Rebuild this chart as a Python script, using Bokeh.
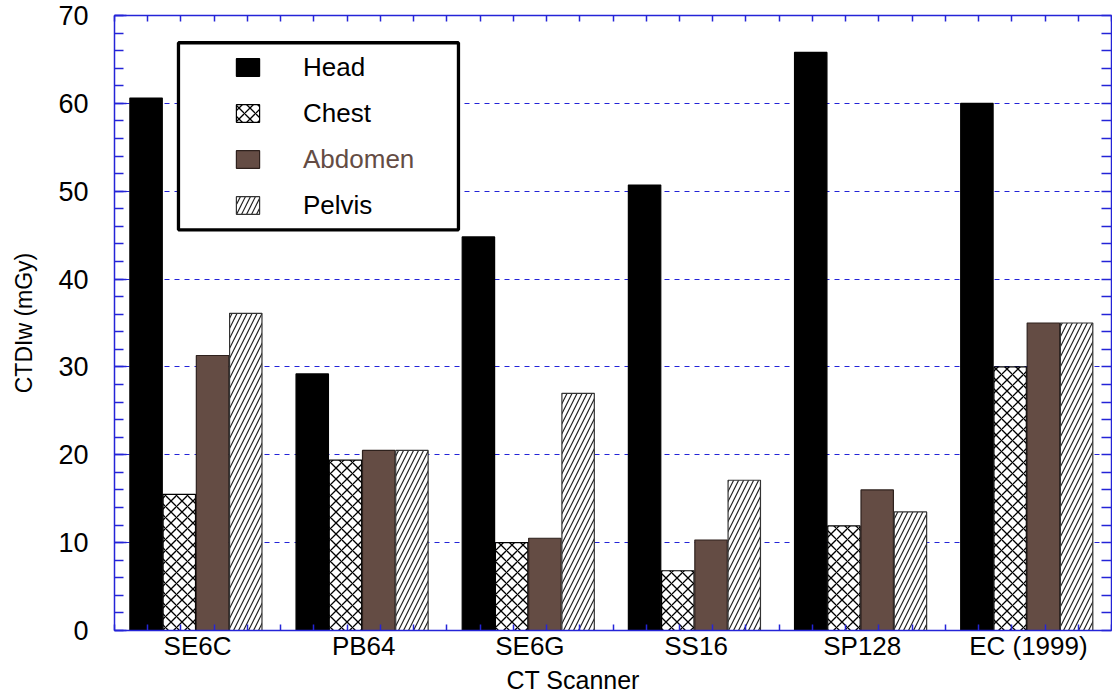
from bokeh.plotting import figure
from bokeh.models import (Range1d, FixedTicker, LinearAxis, Legend, LegendItem,
                          BoxAnnotation, Title)
from bokeh.embed import file_html
from bokeh.resources import INLINE

# ---- data ----
scanners = ["SE6C", "PB64", "SE6G", "SS16", "SP128", "EC (1999)"]
series_names = ["Head", "Chest", "Abdomen", "Pelvis"]
head = [60.6, 29.2, 44.8, 50.7, 65.8, 60.0]
chest = [15.5, 19.4, 10.0, 6.8, 11.9, 30.0]
abdomen = [31.3, 20.5, 10.5, 10.3, 16.0, 35.0]
pelvis = [36.1, 20.5, 27.0, 17.1, 13.5, 35.0]
y_ticks = [0, 10, 20, 30, 40, 50, 60, 70]

FONT = "Liberation Sans"
AXIS = "#2424d8"
BROWN = "#644c44"

ng = len(scanners)
p = figure(width=1112, height=693, output_backend="svg", toolbar_location=None,
           x_range=Range1d(0, ng), y_range=Range1d(0, 70),
           min_border_left=114, min_border_right=1, min_border_top=15,
           min_border_bottom=62)
p.outline_line_color = None
p.background_fill_color = "white"

# grid
p.xgrid.visible = False
p.ygrid.ticker = FixedTicker(ticks=y_ticks[1:-1])
p.ygrid.grid_line_color = AXIS
p.ygrid.grid_line_dash = "5 5"
p.ygrid.grid_line_width = 1

# bars
styles = [
    dict(fill_color="black", line_color="black"),
    dict(fill_color="white", line_color="black", hatch_pattern="x",
         hatch_color="black", hatch_scale=11, hatch_weight=1.3),
    dict(fill_color=BROWN, line_color="#2e211d"),
    dict(fill_color="white", line_color="#333333", hatch_pattern="/",
         hatch_color="#222222", hatch_scale=10, hatch_weight=1.2),
]
values = [head, chest, abdomen, pelvis]
renderers = []
for k, (vals, st) in enumerate(zip(values, styles)):
    xs = [i + 0.19 + 0.2 * k for i in range(ng)]
    r = p.vbar(x=xs, top=vals, bottom=0, width=0.195, line_width=1.2, **st)
    renderers.append(r)

# bottom axis
centers = [i + 0.5 for i in range(ng)]
minor_x = [round(j * 0.2, 2) for j in range(ng * 5 + 1)]
xa = p.xaxis[0]
xa.ticker = FixedTicker(ticks=centers, minor_ticks=minor_x)
xa.major_label_overrides = {c: s for c, s in zip(centers, scanners)}
xa.major_tick_in = 0
xa.major_tick_out = 0
xa.minor_tick_in = 6
xa.minor_tick_out = 0
xa.major_label_standoff = 0
xa.major_label_text_font = FONT
xa.major_label_text_font_size = "26px"
xa.major_label_text_color = "black"

# left axis
ya = p.yaxis[0]
ya.ticker = FixedTicker(ticks=y_ticks, minor_ticks=list(range(0, 71, 2)))
ya.major_tick_in = 12
ya.major_tick_out = 0
ya.minor_tick_in = 9
ya.minor_tick_out = 0
ya.major_label_standoff = 26
ya.major_label_text_font = FONT
ya.major_label_text_font_size = "27px"
ya.major_label_text_color = "black"
ya.axis_label = "CTDIw (mGy)"
ya.axis_label_text_font = FONT
ya.axis_label_text_font_size = "23px"
ya.axis_label_text_font_style = "normal"
ya.axis_label_text_color = "black"
ya.axis_label_standoff = 18

# top and right axes (ticks only)
top = LinearAxis(ticker=FixedTicker(ticks=[], minor_ticks=minor_x))
right = LinearAxis(ticker=FixedTicker(ticks=[], minor_ticks=list(range(0, 71, 2))))
p.add_layout(top, "above")
p.add_layout(right, "right")
top.minor_tick_in = 6
right.minor_tick_in = 10
for ax in (top, right):
    ax.minor_tick_out = 0
    ax.major_tick_in = 0
    ax.major_tick_out = 0
    ax.major_label_standoff = 0

for ax in (xa, ya, top, right):
    ax.axis_line_color = AXIS
    ax.axis_line_width = 1.5
    ax.major_tick_line_color = AXIS
    ax.minor_tick_line_color = AXIS
    ax.major_tick_line_width = 1.5
    ax.minor_tick_line_width = 1.5

# x axis title
p.add_layout(Title(text="CT Scanner", align="left", offset=392,
                   text_font=FONT, text_font_size="25px", text_color="black",
                   text_font_style="normal", standoff=0), "below")

# legend frame
p.add_layout(BoxAnnotation(left=0.385, right=2.07, bottom=45.6, top=66.9,
                           fill_color="white", fill_alpha=1.0,
                           line_color="black", line_width=3.3, line_alpha=1.0))

label_colors = ["black", "black", BROWN, "black"]
for k, r in enumerate(renderers):
    lg = Legend(items=[LegendItem(label=series_names[k], renderers=[r])],
                location=(119, 547.5 - 46 * k),
                padding=0, margin=0, spacing=0,
                glyph_width=29, glyph_height=22, label_height=22,
                label_standoff=41,
                label_text_font=FONT, label_text_font_size="26px",
                label_text_color=label_colors[k],
                border_line_color=None, background_fill_alpha=0)
    p.add_layout(lg)

open("out.html", "w").write(file_html(p, INLINE))
